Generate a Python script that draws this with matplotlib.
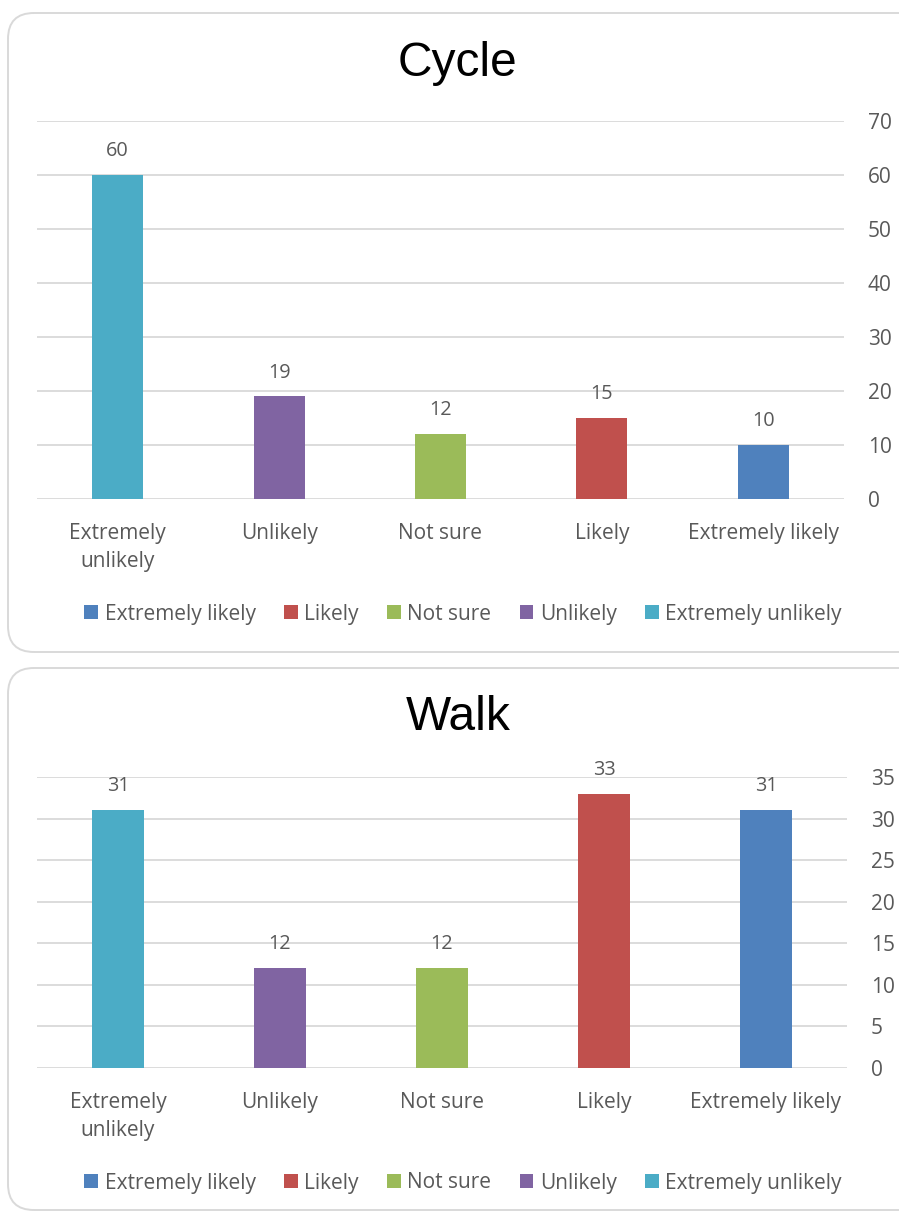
import matplotlib

matplotlib.use("Agg")
import matplotlib.pyplot as plt
from matplotlib.patches import FancyBboxPatch, Patch

W, H = 899, 1213

categories = ["Extremely\nunlikely", "Unlikely", "Not sure", "Likely", "Extremely likely"]
legend_labels = ["Extremely likely", "Likely", "Not sure", "Unlikely", "Extremely unlikely"]
colors = ["#4BACC6", "#8064A2", "#9BBB59", "#C0504D", "#4F81BD"]

cycle_values = [60, 19, 12, 15, 10]
walk_values = [31, 12, 12, 33, 31]

cycle_ticks = [0, 10, 20, 30, 40, 50, 60, 70]
walk_ticks = [0, 5, 10, 15, 20, 25, 30, 35]

TEXT = "#595959"
GRID = "#D9D9D9"
FONT = "Open Sans"
FS = 15

fig = plt.figure(figsize=(W / 100, H / 100), dpi=100)


def px_rect(left, top, right, bottom):
    """Figure-fraction rect from pixel edges (origin top-left)."""
    return [left / W, 1 - bottom / H, (right - left) / W, (bottom - top) / H]


def panel_frame(top, bottom):
    box = FancyBboxPatch((8, H - bottom), 930, bottom - top,
                         boxstyle="round,pad=0,rounding_size=26",
                         transform=None, facecolor="none",
                         edgecolor=GRID, linewidth=1.4, zorder=-5)
    fig.patches.append(box)


def draw_panel(rect, title, title_y, values, ticks, legend_y):
    ax = fig.add_axes(rect)
    ax.set_facecolor("none")
    x = range(len(values))
    bars = ax.bar(x, values, width=0.316, color=colors, zorder=3)
    for b, v in zip(bars, values):
        ax.annotate(str(v), (b.get_x() + b.get_width() / 2, v),
                    xytext=(0, 10), textcoords="offset points",
                    ha="center", va="bottom", fontsize=14.3,
                    family=FONT, color=TEXT)

    ax.set_xlim(-0.5, len(values) - 0.5)
    ax.set_ylim(ticks[0], ticks[-1])
    ax.set_yticks(ticks)
    ax.yaxis.tick_right()
    ax.grid(axis="y", color=GRID, linewidth=1.3, zorder=0)
    ax.set_axisbelow(True)
    for s in ax.spines.values():
        s.set_visible(False)
    ax.tick_params(axis="y", which="major", right=True, length=0, pad=17,
                   labelsize=FS, labelcolor=TEXT)
    for lab in ax.get_yticklabels():
        lab.set_family(FONT)
    ax.set_xticks(list(x))
    ax.set_xticklabels(categories, fontsize=FS, family=FONT, color=TEXT,
                       linespacing=1.44)
    ax.tick_params(axis="x", length=0, pad=17)

    fig.text(458 / W, 1 - title_y / H, title, ha="center", va="center",
             fontsize=34.5, family="Liberation Sans", color="black")

    # legend lists the series from last category to first
    handles = [Patch(facecolor=c) for c in colors[::-1]]
    leg = ax.legend(handles, legend_labels, loc="center",
                    bbox_to_anchor=(463 / W, 1 - legend_y / H),
                    bbox_transform=fig.transFigure, ncol=5, frameon=False,
                    handlelength=0.67, handleheight=0.67, handletextpad=0.3,
                    columnspacing=1.36, prop={"family": FONT, "size": FS})
    for t in leg.get_texts():
        t.set_color(TEXT)
    return ax


panel_frame(13, 652)
panel_frame(668, 1210)

draw_panel(px_rect(37, 121, 844, 499), "Cycle", 63, cycle_values, cycle_ticks, 614)
draw_panel(px_rect(37, 777, 847, 1068), "Walk", 718, walk_values, walk_ticks, 1183)

fig.savefig("out.png", dpi=100)
